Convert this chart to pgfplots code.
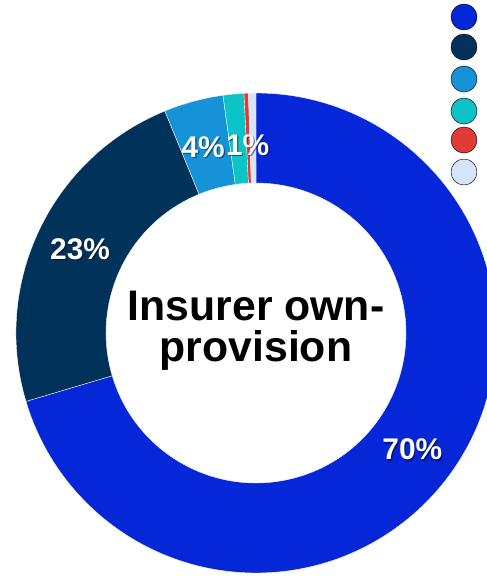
\documentclass[border=0pt]{standalone}
\usepackage{pgfplots}
\pgfplotsset{compat=1.18}
\usepackage{pgfplotstable}
\usepackage{fontspec}
\setmainfont{Liberation Sans}

\definecolor{sBlue}{HTML}{0527D8}
\definecolor{sNavy}{HTML}{00325A}
\definecolor{sMid}{HTML}{1592D8}
\definecolor{sTeal}{HTML}{0CC4C8}
\definecolor{sRed}{HTML}{E23B35}
\definecolor{sLight}{HTML}{D6E4FC}

% share of each slice, clockwise from 12 o'clock; dx/dy nudge the label (px)
\pgfplotstableread{
value colour label dx dy
70.4 sBlue 70   0 0
23.4 sNavy 23   0 0
4.0  sMid  4   -2 -2
1.4  sTeal 1   10 -6
0.3  sRed  none 0 0
0.5  sLight none 0 0
}\slices

% geometry in pixel units of the picture
\def\cx{256}
\def\cy{245}
\def\ro{240}
\def\ri{150}
\def\rl{195}
\def\px{0.03cm}

% start/end/mid angles of every slice
\gdef\cum{0}
\pgfplotsforeachungrouped \i in {0,...,5}{%
  \pgfplotstablegetelem{\i}{value}\of\slices \let\v\pgfplotsretval
  \pgfmathsetmacro\a{90-3.6*\cum}%
  \pgfmathsetmacro\b{90-3.6*(\cum+\v)}%
  \pgfmathsetmacro\m{(\a+\b)/2}%
  \expandafter\xdef\csname sa\i\endcsname{\a}%
  \expandafter\xdef\csname sb\i\endcsname{\b}%
  \expandafter\xdef\csname sm\i\endcsname{\m}%
  \pgfplotstablegetelem{\i}{colour}\of\slices
  \expandafter\xdef\csname sc\i\endcsname{\pgfplotsretval}%
  \pgfplotstablegetelem{\i}{label}\of\slices
  \expandafter\xdef\csname sl\i\endcsname{\pgfplotsretval}%
  \pgfplotstablegetelem{\i}{dx}\of\slices
  \expandafter\xdef\csname sx\i\endcsname{\pgfplotsretval}%
  \pgfplotstablegetelem{\i}{dy}\of\slices
  \expandafter\xdef\csname sy\i\endcsname{\pgfplotsretval}%
  \pgfmathsetmacro\cum{\cum+\v}%
  \xdef\cum{\cum}%
}

\begin{document}
\begin{tikzpicture}
\begin{axis}[
    at={(0,0)}, anchor=south west,
    scale only axis,
    width=14.61cm, height=17.34cm,
    xmin=0, xmax=487, ymin=0, ymax=578,
    hide axis,
    clip=true,
]
\pgfplotsinvokeforeach{0,...,5}{%
  \fill[\csname sc#1\endcsname, draw=white, line width=0.3pt]
    (axis cs:{\cx+\ro*cos(\csname sa#1\endcsname)},{\cy+\ro*sin(\csname sa#1\endcsname)})
    arc[start angle=\csname sa#1\endcsname, end angle=\csname sb#1\endcsname, radius=240*\px]
    -- (axis cs:{\cx+\ri*cos(\csname sb#1\endcsname)},{\cy+\ri*sin(\csname sb#1\endcsname)})
    arc[start angle=\csname sb#1\endcsname, end angle=\csname sa#1\endcsname, radius=150*\px]
    -- cycle;
}
\pgfplotsinvokeforeach{0,...,3}{%
  \node[font=\bfseries\fontsize{25.5}{30}\selectfont, text=black, opacity=0.45, inner sep=0pt]
    at (axis cs:{\cx+\rl*cos(\csname sm#1\endcsname)+\csname sx#1\endcsname+1.2},{\cy+\rl*sin(\csname sm#1\endcsname)+\csname sy#1\endcsname-1.2})
    {\csname sl#1\endcsname\%};
  \node[font=\bfseries\fontsize{25.5}{30}\selectfont, text=white, inner sep=0pt]
    at (axis cs:{\cx+\rl*cos(\csname sm#1\endcsname)+\csname sx#1\endcsname},{\cy+\rl*sin(\csname sm#1\endcsname)+\csname sy#1\endcsname})
    {\csname sl#1\endcsname\%};
}
\node[font=\bfseries\fontsize{36.5}{35}\selectfont, align=center, text=black]
  at (axis cs:\cx,{\cy+2}) {Insurer own-\\provision};

% legend markers (their texts lie beyond the right edge)
\addplot[only marks, mark=*, mark size=11.1pt, mark options={fill=sBlue, draw=none}] coordinates {(464,561)};
\addplot[only marks, mark=*, mark size=11.1pt, mark options={fill=sNavy, draw=none}] coordinates {(464,531)};
\addplot[only marks, mark=*, mark size=11.1pt, mark options={fill=sMid, draw=none}] coordinates {(464,499)};
\addplot[only marks, mark=*, mark size=11.1pt, mark options={fill=sTeal, draw=none}] coordinates {(464,467)};
\addplot[only marks, mark=*, mark size=11.1pt, mark options={fill=sRed, draw=none}] coordinates {(464,438)};
\addplot[only marks, mark=*, mark size=11.1pt, mark options={fill=sLight, draw=none}] coordinates {(464,406)};
\end{axis}
\pgfresetboundingbox
\useasboundingbox (0,0) rectangle (14.61cm,17.34cm);
\end{tikzpicture}
\end{document}
